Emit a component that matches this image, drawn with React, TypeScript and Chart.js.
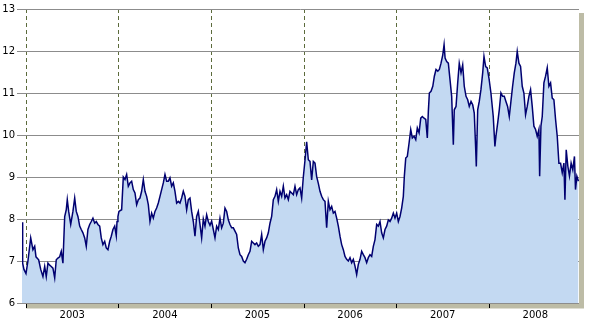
import React, { useEffect, useRef } from "react";
import { Chart, registerables } from "chart.js";

Chart.register(...registerables);

const yearTicks = [2003, 2004, 2005, 2006, 2007, 2008];
const xMin = 2002.954;
const xMax = 2008.969;
const yMin = 6;
const yMax = 13;

const dates = [
  2002.954, 2002.961, 2002.975, 2002.997, 2003.018, 2003.048, 2003.072, 2003.091, 2003.105, 2003.134,
  2003.156, 2003.18, 2003.199, 2003.216, 2003.234, 2003.253, 2003.27, 2003.288, 2003.307, 2003.324,
  2003.342, 2003.361, 2003.378, 2003.396, 2003.415, 2003.432, 2003.443, 2003.458, 2003.48, 2003.504,
  2003.523, 2003.54, 2003.558, 2003.577, 2003.594, 2003.612, 2003.631, 2003.648, 2003.666, 2003.685,
  2003.702, 2003.72, 2003.739, 2003.756, 2003.774, 2003.793, 2003.81, 2003.828, 2003.847, 2003.864,
  2003.882, 2003.901, 2003.918, 2003.936, 2003.955, 2003.972, 2003.98, 2003.99, 2004.001, 2004.03,
  2004.048, 2004.066, 2004.084, 2004.102, 2004.12, 2004.138, 2004.156, 2004.174, 2004.192, 2004.21,
  2004.228, 2004.246, 2004.264, 2004.282, 2004.3, 2004.318, 2004.336, 2004.354, 2004.372, 2004.39,
  2004.408, 2004.426, 2004.444, 2004.462, 2004.48, 2004.498, 2004.516, 2004.534, 2004.552, 2004.57,
  2004.588, 2004.606, 2004.624, 2004.642, 2004.66, 2004.678, 2004.696, 2004.714, 2004.732, 2004.75,
  2004.768, 2004.786, 2004.804, 2004.822, 2004.84, 2004.858, 2004.876, 2004.894, 2004.912, 2004.93,
  2004.948, 2004.966, 2004.984, 2005.002, 2005.02, 2005.038, 2005.056, 2005.074, 2005.092, 2005.11,
  2005.128, 2005.146, 2005.164, 2005.182, 2005.2, 2005.218, 2005.236, 2005.254, 2005.272, 2005.29,
  2005.308, 2005.326, 2005.344, 2005.362, 2005.38, 2005.398, 2005.416, 2005.434, 2005.452, 2005.47,
  2005.488, 2005.506, 2005.524, 2005.542, 2005.56, 2005.578, 2005.596, 2005.614, 2005.632, 2005.65,
  2005.668, 2005.686, 2005.704, 2005.722, 2005.74, 2005.758, 2005.776, 2005.794, 2005.812, 2005.83,
  2005.848, 2005.866, 2005.884, 2005.902, 2005.92, 2005.938, 2005.956, 2005.974, 2005.992, 2006.01,
  2006.028, 2006.046, 2006.064, 2006.082, 2006.1, 2006.118, 2006.136, 2006.154, 2006.172, 2006.19,
  2006.208, 2006.226, 2006.244, 2006.262, 2006.28, 2006.298, 2006.316, 2006.334, 2006.352, 2006.37,
  2006.388, 2006.406, 2006.424, 2006.442, 2006.46, 2006.478, 2006.496, 2006.514, 2006.532, 2006.55,
  2006.568, 2006.586, 2006.604, 2006.622, 2006.64, 2006.658, 2006.676, 2006.694, 2006.712, 2006.73,
  2006.748, 2006.766, 2006.784, 2006.802, 2006.82, 2006.838, 2006.856, 2006.874, 2006.892, 2006.91,
  2006.928, 2006.946, 2006.964, 2006.982, 2007.0, 2007.018, 2007.036, 2007.054, 2007.072, 2007.083,
  2007.098, 2007.115, 2007.134, 2007.152, 2007.169, 2007.188, 2007.206, 2007.223, 2007.242, 2007.26,
  2007.277, 2007.296, 2007.314, 2007.331, 2007.342, 2007.353, 2007.371, 2007.39, 2007.407, 2007.425,
  2007.444, 2007.461, 2007.479, 2007.498, 2007.512, 2007.523, 2007.54, 2007.558, 2007.576, 2007.594,
  2007.612, 2007.622, 2007.641, 2007.659, 2007.676, 2007.695, 2007.713, 2007.73, 2007.749, 2007.767,
  2007.784, 2007.803, 2007.821, 2007.838, 2007.853, 2007.86, 2007.875, 2007.892, 2007.91, 2007.929,
  2007.943, 2007.961, 2007.978, 2007.997, 2008.018, 2008.043, 2008.061, 2008.072, 2008.091, 2008.108,
  2008.126, 2008.144, 2008.162, 2008.18, 2008.198, 2008.216, 2008.234, 2008.252, 2008.27, 2008.288,
  2008.302, 2008.32, 2008.338, 2008.356, 2008.374, 2008.392, 2008.41, 2008.428, 2008.446, 2008.464,
  2008.482, 2008.5, 2008.518, 2008.536, 2008.544, 2008.558, 2008.572, 2008.59, 2008.608, 2008.626,
  2008.644, 2008.662, 2008.68, 2008.698, 2008.716, 2008.734, 2008.752, 2008.77, 2008.788, 2008.806,
  2008.817, 2008.831, 2008.849, 2008.866, 2008.884, 2008.902, 2008.92, 2008.931, 2008.946, 2008.963,
];

const rates = [
  7.92, 6.95, 6.8, 6.7, 7.0, 7.55, 7.27, 7.35, 7.1, 7.03,
  6.8, 6.63, 6.87, 6.63, 6.95, 6.9, 6.87, 6.83, 6.6, 7.03,
  7.07, 7.1, 7.23, 6.95, 8.06, 8.22, 8.46, 8.18, 7.87, 8.18,
  8.5, 8.18, 8.06, 7.83, 7.75, 7.67, 7.55, 7.35, 7.75, 7.87,
  7.94, 8.02, 7.9, 7.94, 7.87, 7.83, 7.55, 7.39, 7.47, 7.31,
  7.27, 7.47, 7.59, 7.75, 7.83, 7.6, 7.94, 8.06, 8.18, 8.22,
  9.0, 8.94, 9.06, 8.78, 8.86, 8.9, 8.7, 8.62, 8.34, 8.46,
  8.5, 8.66, 8.94, 8.66, 8.54, 8.34, 7.94, 8.14, 8.02, 8.18,
  8.26, 8.38, 8.54, 8.7, 8.86, 9.06, 8.9, 8.9, 8.98, 8.78,
  8.86, 8.66, 8.38, 8.42, 8.38, 8.5, 8.66, 8.54, 8.22, 8.46,
  8.5, 8.18, 7.94, 7.59, 8.06, 8.18, 7.87, 7.55, 8.0, 7.83,
  8.1, 7.94, 7.85, 7.95, 7.75, 7.55, 7.83, 7.75, 8.02, 7.79,
  7.9, 8.26, 8.18, 7.98, 7.87, 7.79, 7.79, 7.71, 7.63, 7.31,
  7.15, 7.11, 7.0, 6.96, 7.04, 7.15, 7.23, 7.47, 7.43, 7.39,
  7.43, 7.35, 7.39, 7.63, 7.27, 7.47, 7.55, 7.67, 7.9, 8.06,
  8.46, 8.54, 8.7, 8.42, 8.66, 8.54, 8.78, 8.5, 8.58, 8.46,
  8.66, 8.62, 8.58, 8.78, 8.58, 8.7, 8.74, 8.5, 9.0, 9.4,
  9.84, 9.41, 9.37, 8.93, 9.37, 9.33, 9.01, 8.85, 8.66, 8.54,
  8.46, 8.42, 7.79, 8.42, 8.22, 8.3, 8.14, 8.18, 8.02, 7.83,
  7.59, 7.39, 7.27, 7.11, 7.04, 7.0, 7.08, 6.96, 7.04, 6.88,
  6.68, 6.92, 7.04, 7.23, 7.15, 7.08, 6.96, 7.08, 7.15, 7.11,
  7.35, 7.51, 7.87, 7.83, 7.94, 7.67, 7.55, 7.75, 7.83, 7.98,
  7.94, 8.02, 8.14, 8.02, 8.14, 7.94, 8.06, 8.26, 8.54, 9.02,
  9.45, 9.49, 9.81, 10.13, 9.93, 9.97, 9.89, 10.17, 10.05, 10.4,
  10.44, 10.4, 10.37, 9.93, 10.56, 11.0, 11.04, 11.16, 11.4, 11.56,
  11.52, 11.56, 11.71, 11.91, 12.15, 11.83, 11.75, 11.71, 11.32, 10.92,
  9.77, 10.6, 10.68, 11.24, 11.71, 11.48, 11.67, 11.16, 10.92, 10.84,
  10.68, 10.8, 10.72, 10.52, 9.69, 9.25, 10.6, 10.8, 11.08, 11.48,
  11.87, 11.63, 11.6, 11.35, 11.0, 10.44, 9.73, 9.97, 10.29, 10.6,
  11.0, 10.92, 10.92, 10.8, 10.68, 10.44, 10.8, 11.16, 11.48, 11.71,
  11.99, 11.71, 11.63, 11.16, 11.0, 10.48, 10.68, 10.92, 11.08, 10.68,
  10.21, 10.13, 9.97, 10.13, 9.02, 10.21, 10.44, 11.24, 11.4, 11.6,
  11.16, 11.24, 10.88, 10.84, 10.37, 9.97, 9.33, 9.33, 9.1, 9.33,
  8.46, 9.65, 9.25, 9.02, 9.33, 9.17, 9.49, 8.7, 9.02, 8.9,
];

const shadowPlugin = {
  id: "plotShadow",
  beforeDraw(chart: any) {
    const { ctx, chartArea: a } = chart;
    ctx.save();
    ctx.fillStyle = "#BDBCA6";
    ctx.fillRect(a.left + 4, a.top + 4, a.right - a.left + 1, a.bottom - a.top + 1.5);
    ctx.fillStyle = "#FFFFFF";
    ctx.fillRect(a.left, a.top, a.right - a.left, a.bottom - a.top);
    ctx.restore();
  },
};

export default function App() {
  const ref = useRef<HTMLCanvasElement>(null);

  useEffect(() => {
    document.body.style.margin = "0";
    const canvas = ref.current!;
    const points = dates.map((d, i) => ({ x: d, y: rates[i] }));
    const font = { family: "'DejaVu Sans', Verdana, sans-serif", size: 10 };
    const chart = new Chart(canvas, {
      type: "line",
      data: {
        datasets: [
          {
            data: points,
            borderColor: "#000070",
            borderWidth: 1.5,
            backgroundColor: "#C3D9F2",
            fill: "start",
            pointRadius: 0,
            tension: 0,
          },
        ],
      },
      options: {
        animation: false,
        responsive: false,
        events: [],
        layout: { padding: { top: 9, right: 11, left: 0, bottom: 0 } },
        plugins: { legend: { display: false }, tooltip: { enabled: false } },
        scales: {
          x: {
            type: "linear",
            min: xMin,
            max: xMax,
            afterBuildTicks: (s: any) => {
              s.ticks = yearTicks.map((v) => ({ value: v }));
            },
            afterFit: (s: any) => {
              s.height = 21;
            },
            border: { display: false, dash: [4, 3] },
            grid: {
              color: "#5C6B3C",
              lineWidth: 1,
              tickColor: "#000000",
              tickLength: 5,
              tickBorderDash: [],
            },
            ticks: {
              color: "#000000",
              font,
              padding: 1,
              labelOffset: 46,
              maxRotation: 0,
              autoSkip: false,
              callback: (v: any) => String(v),
            },
          },
          y: {
            type: "linear",
            min: yMin,
            max: yMax,
            afterFit: (s: any) => {
              s.width = 22;
            },
            border: { display: false },
            grid: {
              color: "#8C8C8C",
              lineWidth: 1,
              tickColor: "#8C8C8C",
              tickLength: 5,
            },
            ticks: {
              color: "#000000",
              font,
              padding: 2,
              stepSize: 1,
            },
          },
        },
      },
      plugins: [shadowPlugin],
    });
    return () => chart.destroy();
  }, []);

  return <canvas ref={ref} width={590} height={324} style={{ display: "block" }} />;
}
